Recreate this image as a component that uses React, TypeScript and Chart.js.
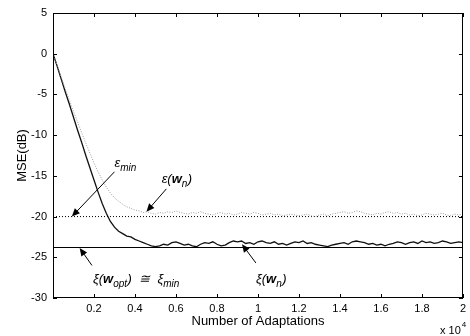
import React, { useEffect, useRef } from "react";
import { Chart, registerables } from "chart.js";
Chart.register(...registerables);

// Number of adaptations (x 10^4)
const ADAPT = [
  0, 0.02, 0.04, 0.06, 0.08, 0.1, 0.12, 0.14, 0.16, 0.18,
  0.2, 0.22, 0.24, 0.26, 0.28, 0.3, 0.32, 0.34, 0.36, 0.38,
  0.4, 0.42, 0.44, 0.46, 0.48, 0.5, 0.52, 0.54, 0.56, 0.58,
  0.6, 0.62, 0.64, 0.66, 0.68, 0.7, 0.72, 0.74, 0.76, 0.78,
  0.8, 0.82, 0.84, 0.86, 0.88, 0.9, 0.92, 0.94, 0.96, 0.98,
  1, 1.02, 1.04, 1.06, 1.08, 1.1, 1.12, 1.14, 1.16, 1.18,
  1.2, 1.22, 1.24, 1.26, 1.28, 1.3, 1.32, 1.34, 1.36, 1.38,
  1.4, 1.42, 1.44, 1.46, 1.48, 1.5, 1.52, 1.54, 1.56, 1.58,
  1.6, 1.62, 1.64, 1.66, 1.68, 1.7, 1.72, 1.74, 1.76, 1.78,
  1.8, 1.82, 1.84, 1.86, 1.88, 1.9, 1.92, 1.94, 1.96, 1.98, 2,
];

// xi(w_n): dark solid curve (dB)
const XI_N = [
  0, -1.5, -3.1, -4.7, -6.2, -7.8, -9.4, -10.9, -12.5, -14.0,
  -15.5, -17.0, -18.4, -19.6, -20.6, -21.3, -21.8, -22.1, -22.4, -22.5,
  -22.8, -23.0, -23.2, -23.4, -23.6, -23.7, -23.6, -23.4, -23.5, -23.2,
  -23.1, -23.3, -23.5, -23.4, -23.6, -23.7, -23.4, -23.2, -23.3, -23.1,
  -23.4, -23.6, -23.5, -23.2, -23.0, -23.1, -23.0, -23.3, -23.2, -23.4,
  -23.1, -23.0, -23.2, -23.3, -23.1, -23.4, -23.3, -23.5, -23.3, -23.1,
  -23.2, -23.0, -23.3, -23.2, -23.4, -23.5, -23.6, -23.7, -23.5, -23.4,
  -23.3, -23.2, -23.4, -23.1, -23.0, -23.1, -23.2, -23.4, -23.3, -23.5,
  -23.4, -23.6, -23.4, -23.3, -23.1, -23.2, -23.4, -23.2, -23.1, -23.3,
  -23.0, -23.2, -23.1, -23.3, -23.2, -23.0, -23.1, -23.3, -23.2, -23.1, -23.2,
];

// eps(w_n): gray dotted curve (dB)
const EPS_N = [
  0, -1.4, -2.9, -4.3, -5.7, -7.1, -8.4, -9.7, -11.0, -12.2,
  -13.4, -14.5, -15.5, -16.4, -17.1, -17.7, -18.1, -18.5, -18.8, -19.0,
  -19.2, -19.3, -19.5, -19.4, -19.6, -19.7, -19.5, -19.6, -19.4, -19.5,
  -19.3, -19.5, -19.6, -19.7, -19.5, -19.6, -19.4, -19.6, -19.7, -19.8,
  -19.6, -19.5, -19.7, -19.6, -19.8, -19.7, -19.5, -19.6, -19.7, -19.5,
  -19.6, -19.8, -19.7, -19.6, -19.8, -19.7, -19.9, -19.8, -19.7, -19.8,
  -19.9, -19.8, -19.7, -19.9, -20.0, -19.8, -19.7, -19.9, -19.7, -19.6,
  -19.5, -19.4, -19.6, -19.5, -19.3, -19.4, -19.6, -19.7, -19.8, -19.6,
  -19.7, -19.5, -19.4, -19.6, -19.5, -19.7, -19.6, -19.8, -19.7, -19.9,
  -19.8, -19.6, -19.7, -19.8, -19.7, -19.6, -19.8, -19.9, -19.7, -19.8, -19.7,
];

const EPS_MIN = -20;
const XI_MIN = -23.8;
const X_RANGE = [0, 2];
const Y_RANGE = [-30, 5];
const X_TICKS = [0.2, 0.4, 0.6, 0.8, 1, 1.2, 1.4, 1.6, 1.8, 2];
const Y_TICKS = [5, 0, -5, -10, -15, -20, -25, -30];
const X_TITLE = "Number of Adaptations";
const Y_TITLE = "MSE(dB)";
const X_MULT = ["x 10", "4"];

const FONT = "'Liberation Sans', Arial, Helvetica, sans-serif";

type Seg = { t: string; bold?: boolean; sub?: boolean };
type Note = { segs: Seg[]; at: [number, number]; tail: [number, number]; head: [number, number] };

const NOTES: Note[] = [
  {
    segs: [{ t: "ε" }, { t: "min", sub: true }],
    at: [0.3, -13.9],
    tail: [0.3, -14.5],
    head: [0.092, -20.0],
  },
  {
    segs: [{ t: "ε(" }, { t: "w", bold: true }, { t: "n", sub: true }, { t: ")" }],
    at: [0.53, -15.9],
    tail: [0.553, -16.6],
    head: [0.456, -19.4],
  },
  {
    segs: [
      { t: "ξ(" }, { t: "w", bold: true }, { t: "opt", sub: true }, { t: ")  ≅  ξ" }, { t: "min", sub: true },
    ],
    at: [0.195, -28.2],
    tail: [0.19, -26.0],
    head: [0.13, -23.85],
  },
  {
    segs: [{ t: "ξ(" }, { t: "w", bold: true }, { t: "n", sub: true }, { t: ")" }],
    at: [0.99, -28.2],
    tail: [0.99, -25.7],
    head: [0.922, -23.4],
  },
];

function drawArrow(ctx: CanvasRenderingContext2D, x0: number, y0: number, x1: number, y1: number) {
  const ang = Math.atan2(y1 - y0, x1 - x0);
  const L = 8, W = 3.5;
  ctx.save();
  ctx.strokeStyle = "#000";
  ctx.fillStyle = "#000";
  ctx.lineWidth = 1;
  ctx.beginPath();
  ctx.moveTo(x0, y0);
  ctx.lineTo(x1 - Math.cos(ang) * L * 0.8, y1 - Math.sin(ang) * L * 0.8);
  ctx.stroke();
  ctx.beginPath();
  ctx.moveTo(x1, y1);
  ctx.lineTo(x1 - Math.cos(ang) * L - Math.sin(ang) * W, y1 - Math.sin(ang) * L + Math.cos(ang) * W);
  ctx.lineTo(x1 - Math.cos(ang) * L + Math.sin(ang) * W, y1 - Math.sin(ang) * L - Math.cos(ang) * W);
  ctx.closePath();
  ctx.fill();
  ctx.restore();
}

const decor = {
  id: "decor",
  afterDraw(chart: any) {
    const { ctx, chartArea: a, scales } = chart;
    const xs = scales.x, ys = scales.y;
    ctx.save();
    // frame
    ctx.strokeStyle = "#000";
    ctx.lineWidth = 1;
    ctx.strokeRect(Math.round(a.left) + 0.5, Math.round(a.top) + 0.5, Math.round(a.right - a.left) - 1, Math.round(a.bottom - a.top) - 1);
    // inward ticks
    const TL = 4;
    ctx.beginPath();
    X_TICKS.forEach((v) => {
      const px = Math.round(xs.getPixelForValue(v)) + 0.5;
      ctx.moveTo(px, a.bottom); ctx.lineTo(px, a.bottom - TL);
      ctx.moveTo(px, a.top); ctx.lineTo(px, a.top + TL);
    });
    Y_TICKS.forEach((v) => {
      const py = Math.round(ys.getPixelForValue(v)) + 0.5;
      ctx.moveTo(a.left, py); ctx.lineTo(a.left + TL, py);
      ctx.moveTo(a.right, py); ctx.lineTo(a.right - TL, py);
    });
    ctx.stroke();

    // axis titles
    ctx.fillStyle = "#000";
    ctx.font = `13px ${FONT}`;
    ctx.textAlign = "center";
    ctx.textBaseline = "middle";
    ctx.fillText(X_TITLE, (a.left + a.right) / 2, 321);
    ctx.save();
    ctx.translate(22, (a.top + a.bottom) / 2);
    ctx.rotate(-Math.PI / 2);
    ctx.fillText(Y_TITLE, 0, 0);
    ctx.restore();
    // multiplier
    ctx.textAlign = "left";
    ctx.textBaseline = "alphabetic";
    ctx.font = `11px ${FONT}`;
    ctx.fillText(X_MULT[0], 440, 334);
    const w = ctx.measureText(X_MULT[0]).width;
    ctx.font = `8px ${FONT}`;
    ctx.fillText(X_MULT[1], 440 + w + 1, 327);

    // annotations
    NOTES.forEach((n) => {
      drawArrow(ctx, xs.getPixelForValue(n.tail[0]), ys.getPixelForValue(n.tail[1]),
        xs.getPixelForValue(n.head[0]), ys.getPixelForValue(n.head[1]));
      let x = xs.getPixelForValue(n.at[0]);
      const y = ys.getPixelForValue(n.at[1]);
      n.segs.forEach((s) => {
        ctx.font = `italic ${s.bold ? "bold " : ""}${s.sub ? 10 : 13}px ${FONT}`;
        ctx.fillText(s.t, x, s.sub ? y + 4 : y);
        x += ctx.measureText(s.t).width + (s.sub ? 0.5 : 0);
      });
    });
    ctx.restore();
  },
};

const pts = (ys: number[]) => ADAPT.map((x, i) => ({ x, y: ys[i] }));

export default function App() {
  const ref = useRef<HTMLCanvasElement | null>(null);
  useEffect(() => {
    if (!ref.current) return;
    const chart = new Chart(ref.current, {
      type: "line",
      data: {
        datasets: [
          { data: pts(EPS_N), borderColor: "#9a9a9a", borderWidth: 1, borderDash: [1, 1.5], pointRadius: 0, tension: 0 },
          { data: [{ x: X_RANGE[0], y: EPS_MIN }, { x: X_RANGE[1], y: EPS_MIN }], borderColor: "#000", borderWidth: 1, borderDash: [1, 2], pointRadius: 0 },
          { data: [{ x: X_RANGE[0], y: XI_MIN }, { x: X_RANGE[1], y: XI_MIN }], borderColor: "#000", borderWidth: 1, pointRadius: 0 },
          { data: pts(XI_N), borderColor: "#111", borderWidth: 1.3, pointRadius: 0, tension: 0 },
        ],
      },
      options: {
        animation: false,
        responsive: true,
        maintainAspectRatio: false,
        layout: { padding: { top: 13, right: 5, left: 0, bottom: 0 } },
        plugins: { legend: { display: false }, tooltip: { enabled: false } },
        scales: {
          x: {
            type: "linear",
            min: X_RANGE[0],
            max: X_RANGE[1],
            afterBuildTicks: (s: any) => { s.ticks = X_TICKS.map((v) => ({ value: v })); },
            afterFit: (s: any) => { s.height = 38; },
            grid: { display: false, drawTicks: false },
            border: { display: false },
            ticks: {
              autoSkip: false, maxRotation: 0, padding: 4, color: "#000",
              font: { family: FONT, size: 11 },
              callback: (v: any) => String(v),
            },
          },
          y: {
            type: "linear",
            min: Y_RANGE[0],
            max: Y_RANGE[1],
            afterBuildTicks: (s: any) => { s.ticks = Y_TICKS.map((v) => ({ value: v })); },
            afterFit: (s: any) => { s.width = 53; },
            grid: { display: false, drawTicks: false },
            border: { display: false },
            ticks: {
              autoSkip: false, padding: 6, color: "#000",
              font: { family: FONT, size: 11 },
              callback: (v: any) => String(v),
            },
          },
        },
      },
      plugins: [decor],
    } as any);
    return () => chart.destroy();
  }, []);
  return (
    <div style={{ position: "absolute", left: 0, top: 0, width: 470, height: 336, background: "#fff" }}>
      <canvas ref={ref} />
    </div>
  );
}
